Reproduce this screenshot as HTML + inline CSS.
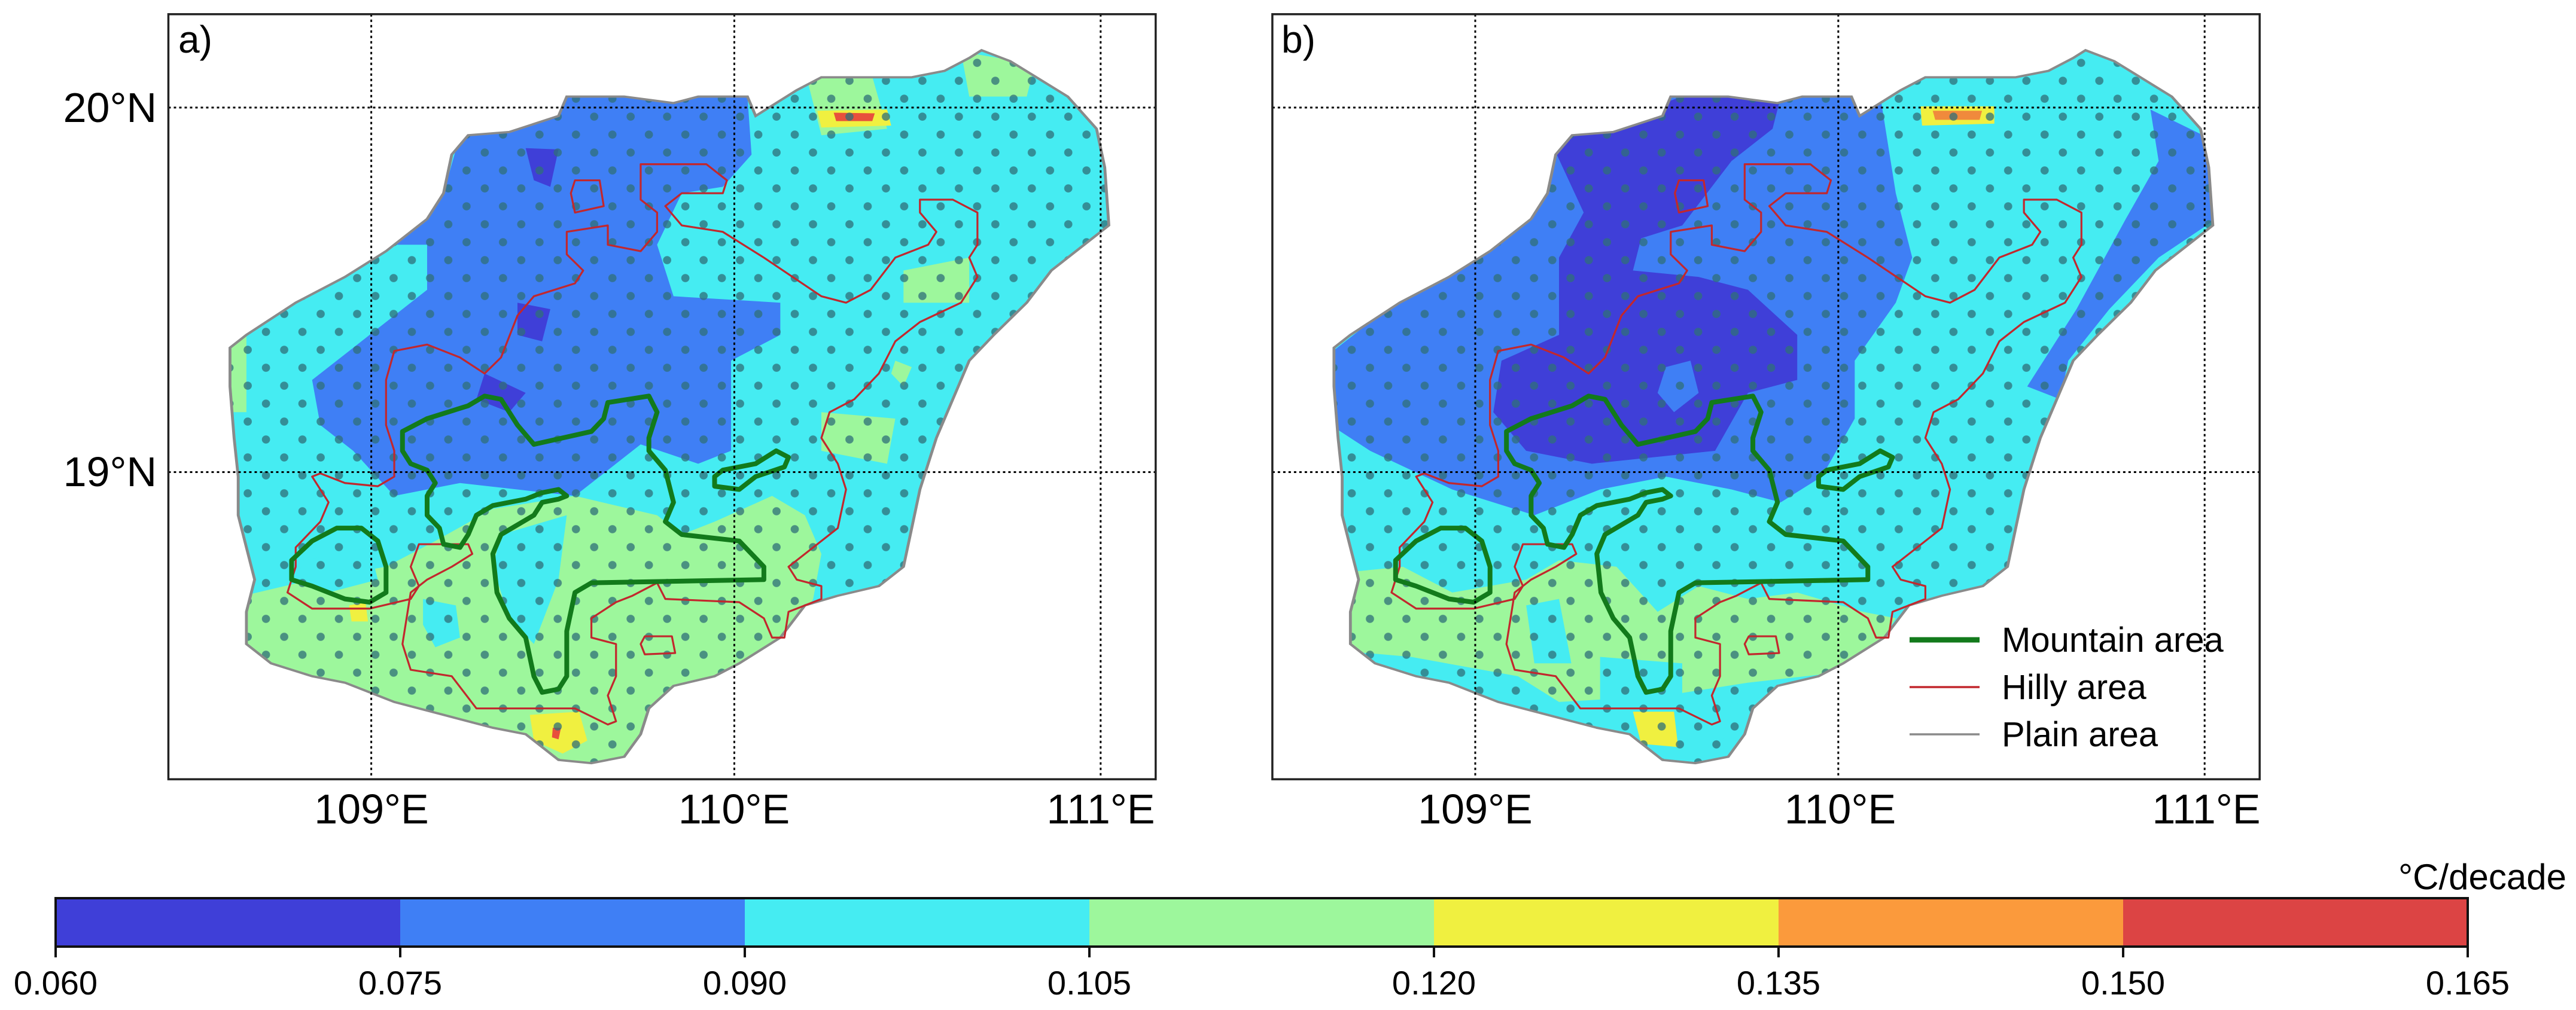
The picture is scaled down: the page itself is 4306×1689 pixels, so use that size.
<!DOCTYPE html>
<html><head><meta charset="utf-8"><style>
html,body{margin:0;padding:0;background:#fff;}
svg{display:block;font-family:"Liberation Sans",sans-serif;}
</style></head><body>
<svg id="fig" width="4306" height="1689" viewBox="0 0 4306 1689" xmlns="http://www.w3.org/2000/svg">
<defs>
  <path id="island" d="M1195,78 L1230,95 L1300,150 L1335,200 L1345,260 L1350,350 L1320,380 L1280,420 L1250,470 L1210,520 L1180,560 L1160,620 L1140,680 L1120,760 L1110,820 L1100,880 L1070,910 L1020,925 L980,940 L950,990 L900,1030 L870,1050 L820,1065 L790,1100 L780,1140 L760,1175 L720,1185 L680,1180 L640,1140 L600,1130 L540,1110 L480,1090 L420,1060 L380,1050 L330,1030 L300,1000 L300,950 L310,900 L300,850 L290,800 L290,740 L285,680 L280,600 L280,540 L300,520 L360,470 L420,430 L470,390 L520,340 L540,300 L550,240 L570,210 L620,205 L680,180 L690,150 L760,150 L820,160 L850,150 L910,150 L920,180 L970,140 L1000,120 L1060,120 L1110,120 L1150,110 L1180,90 Z"/>
  <clipPath id="islandClip"><use href="#island"/></clipPath>
  <clipPath id="boxClip"><rect x="205" y="22" width="1202" height="1188"/></clipPath>
  <pattern id="dots" patternUnits="userSpaceOnUse" x="2" y="7" width="44.4" height="55.7">
    <ellipse cx="11" cy="7" rx="5" ry="6.3" fill="#2f6f78" fill-opacity="0.75"/>
    <ellipse cx="33.2" cy="34.85" rx="5" ry="6.3" fill="#2f6f78" fill-opacity="0.75"/>
  </pattern>
  <g id="hilly">
    <path d="M470,590 L480,545 L520,535 L560,555 L590,580 L610,555 L630,490 L650,460 L700,440 L710,420 L690,395 L690,360 L740,350 L740,380 L780,390 L800,360 L800,330 L780,310 L780,255 L860,255 L885,280 L880,300 L830,300 L810,320 L830,350 L880,360 L930,400 L1000,460 L1030,470 L1060,450 L1090,400 L1130,380 L1140,360 L1120,330 L1120,310 L1160,310 L1190,330 L1190,380 L1180,400 L1190,430 L1170,470 L1120,500 L1090,530 L1070,580 L1040,620 L1010,640 L1000,680 L1020,720 L1030,760 L1020,820 L980,860 L960,880 L970,900 L1000,910 L1000,930 L960,950 L955,990 L940,990 L930,960 L900,935 L810,930 L800,905 L770,925 L750,935 L720,960 L720,990 L750,1000 L750,1050 L740,1080 L750,1120 L740,1125 L700,1100 L580,1100 L550,1050 L500,1040 L490,1000 L500,920 L520,900 L550,880 L575,860 L570,845 L510,845 L500,880 L510,910 L500,930 L450,945 L380,945 L350,920 L360,880 L360,850 L390,810 L400,780 L380,740 L390,735 L420,750 L460,755 L480,740 L480,700 L470,660 Z" fill="none" stroke="#c2272d" stroke-width="3.2" vector-effect="non-scaling-stroke" stroke-linejoin="round"/>
    <path d="M700,280 L730,280 L735,320 L700,330 L695,300 Z" fill="none" stroke="#c2272d" stroke-width="3.2" vector-effect="non-scaling-stroke" stroke-linejoin="round"/>
    <path d="M785,988 L818,988 L822,1014 L785,1016 L780,1000 Z" fill="none" stroke="#c2272d" stroke-width="3.2" vector-effect="non-scaling-stroke" stroke-linejoin="round"/>
  </g>
  <g id="mountain">
    <path d="M490,670 L520,650 L570,630 L590,615 L610,620 L630,660 L650,690 L720,670 L735,650 L740,625 L790,615 L800,640 L790,680 L790,700 L810,730 L820,780 L810,810 L830,830 L900,840 L930,880 L930,900 L720,905 L700,920 L690,980 L690,1050 L680,1070 L660,1075 L650,1050 L640,990 L620,960 L605,920 L600,860 L610,830 L650,800 L660,780 L680,775 L690,770 L680,760 L660,765 L640,775 L600,785 L580,800 L570,830 L560,850 L540,845 L535,820 L520,800 L520,770 L530,750 L520,730 L500,720 L490,700 Z" fill="none" stroke="#127a1b" stroke-width="8" vector-effect="non-scaling-stroke" stroke-linejoin="round"/>
    <path d="M870,740 L880,730 L920,720 L945,700 L960,710 L955,725 L920,740 L900,760 L870,755 Z" fill="none" stroke="#127a1b" stroke-width="8" vector-effect="non-scaling-stroke" stroke-linejoin="round"/>
    <path d="M355,870 L380,840 L410,820 L440,820 L460,840 L470,880 L470,920 L450,935 L420,930 L380,910 L355,900 Z M355,870 L355,900" fill="none" stroke="#127a1b" stroke-width="8" vector-effect="non-scaling-stroke" stroke-linejoin="round"/>
  </g>
</defs>

<!-- PANEL A -->
<g transform="matrix(1.373,0,0,1.077,0,0)">
  <g clip-path="url(#boxClip)">
  <g clip-path="url(#islandClip)">
    <rect x="205" y="22" width="1202" height="1188" fill="#45ecf2"/>
    <path fill="#3f7ff5" d="M560,210 L680,180 L690,150 L910,150 L915,240 L880,290 L830,300 L800,380 L820,460 L950,470 L950,520 L890,560 L890,700 L850,720 L780,690 L700,770 L560,750 L480,770 L430,700 L390,660 L380,590 L430,540 L520,450 L520,380 L460,380 L540,300 Z"/>
    <path fill="#3f3fd8" d="M640,230 L680,232 L670,290 L650,280 Z M630,470 L670,480 L660,530 L630,520 Z M590,580 L640,610 L620,640 L580,620 Z"/>
    <path fill="#9df79c" d="M280,930 L380,900 L470,880 L530,840 L600,790 L700,770 L800,800 L830,830 L870,810 L940,770 L980,800 L1000,860 L990,930 L960,1000 L900,1040 L820,1070 L790,1190 L300,1190 L280,1040 Z M1000,640 L1090,650 L1080,720 L1000,700 Z M1100,420 L1180,400 L1180,470 L1100,470 Z M270,520 L300,520 L300,640 L270,640 Z M980,110 L1060,110 L1080,200 L1000,210 Z M1170,80 L1260,100 L1250,150 L1180,150 Z M1090,560 L1110,570 L1100,600 L1085,580 Z"/>
    <path fill="#45ecf2" d="M515,930 L555,940 L560,990 L530,1005 L515,970 Z M610,830 L690,800 L680,900 L650,1000 L620,960 L600,880 Z M370,870 L450,850 L460,900 L400,920 L360,900 Z"/>
    <path fill="#f0f040" d="M645,1110 L705,1105 L715,1150 L685,1170 L650,1150 Z M425,940 L445,935 L448,965 L428,965 Z M995,172 L1080,170 L1085,195 L1000,198 Z"/>
    <path fill="#e8503c" d="M1015,175 L1065,176 L1062,188 L1018,188 Z M673,1130 L683,1130 L680,1148 L672,1145 Z"/>
    <rect x="205" y="22" width="1202" height="1188" fill="url(#dots)"/>
  </g>
  <use href="#island" fill="none" stroke="#8a8a8a" stroke-width="3.5" vector-effect="non-scaling-stroke"/>
  <use href="#hilly"/>
  <use href="#mountain"/>
  <g stroke="#000" stroke-width="3" stroke-dasharray="4,5" vector-effect="non-scaling-stroke">
    <line x1="452" y1="22" x2="452" y2="1210" vector-effect="non-scaling-stroke"/>
    <line x1="894" y1="22" x2="894" y2="1210" vector-effect="non-scaling-stroke"/>
    <line x1="1340" y1="22" x2="1340" y2="1210" vector-effect="non-scaling-stroke"/>
    <line x1="205" y1="167" x2="1407" y2="167" vector-effect="non-scaling-stroke"/>
    <line x1="205" y1="733" x2="1407" y2="733" vector-effect="non-scaling-stroke"/>
  </g>
  </g>
  <rect x="205" y="22" width="1202" height="1188" fill="none" stroke="#222" stroke-width="3.5" vector-effect="non-scaling-stroke"/>
</g>

<!-- PANEL B -->
<g transform="matrix(1.373,0,0,1.077,1845.4,0)">
  <g clip-path="url(#boxClip)">
  <g clip-path="url(#islandClip)">
    <rect x="205" y="22" width="1202" height="1188" fill="#45ecf2"/>
    <g transform="translate(224,0)">
    <path fill="#3f7ff5" d="M40,560 L100,500 L320,200 L470,140 L600,140 L720,140 L740,300 L760,400 L740,470 L690,560 L690,650 L650,740 L600,780 L540,760 L460,740 L380,760 L300,800 L200,760 L100,700 L40,650 Z M1050,170 L1130,220 L1130,340 L1060,400 L1000,480 L950,560 L940,620 L900,600 L960,480 L1020,340 L1060,250 Z"/>
    <path fill="#3f3fd8" d="M320,220 L480,150 L600,150 L590,200 L540,250 L480,350 L430,370 L420,420 L500,430 L560,450 L620,520 L620,590 L560,610 L520,700 L370,720 L290,700 L250,640 L260,560 L330,520 L330,400 L360,330 Z"/>
    <path fill="#3f7ff5" d="M460,570 L490,560 L500,610 L470,640 L450,610 Z"/>
    <path fill="#9df79c" d="M60,890 L140,880 L200,920 L290,900 L330,870 L400,880 L450,950 L500,910 L560,930 L620,920 L700,950 L740,960 L720,1000 L700,1040 L560,1060 L460,1080 L330,1090 L280,1050 L150,1020 L60,1010 Z"/>
    <path fill="#45ecf2" d="M290,940 L330,930 L345,1030 L300,1030 Z M380,1020 L480,1030 L480,1090 L380,1090 Z M540,1090 L600,1110 L560,1200 L520,1200 Z"/>
    <path fill="#f0f040" d="M420,1105 L470,1105 L475,1160 L430,1155 Z M770,165 L860,165 L860,192 L772,195 Z"/>
    <path fill="#f08a3c" d="M785,172 L845,172 L842,186 L788,186 Z"/>
    </g>
    <rect x="205" y="22" width="1202" height="1188" fill="url(#dots)"/>
  </g>
  <use href="#island" fill="none" stroke="#8a8a8a" stroke-width="3.5" vector-effect="non-scaling-stroke"/>
  <use href="#hilly"/>
  <use href="#mountain"/>
  <g stroke="#000" stroke-width="3" stroke-dasharray="4,5">
    <line x1="452" y1="22" x2="452" y2="1210" vector-effect="non-scaling-stroke"/>
    <line x1="894" y1="22" x2="894" y2="1210" vector-effect="non-scaling-stroke"/>
    <line x1="1340" y1="22" x2="1340" y2="1210" vector-effect="non-scaling-stroke"/>
    <line x1="205" y1="167" x2="1407" y2="167" vector-effect="non-scaling-stroke"/>
    <line x1="205" y1="733" x2="1407" y2="733" vector-effect="non-scaling-stroke"/>
  </g>
  </g>
  <rect x="205" y="22" width="1202" height="1188" fill="none" stroke="#222" stroke-width="3.5" vector-effect="non-scaling-stroke"/>
</g>

<!-- Labels -->
<text x="298" y="88" font-size="64">a)</text>
<text x="2142" y="88" font-size="64">b)</text>
<g font-size="70" text-anchor="end">
  <text x="262" y="204">20°N</text>
  <text x="262" y="813">19°N</text>
</g>
<g font-size="70" text-anchor="middle">
  <text x="621" y="1377">109°E</text>
  <text x="1227" y="1377">110°E</text>
  <text x="1840" y="1377">111°E</text>
</g>
<g font-size="70" text-anchor="middle">
  <text x="2466" y="1377">109°E</text>
  <text x="3076" y="1377">110°E</text>
  <text x="3688" y="1377">111°E</text>
</g>

<!-- Legend -->
<g font-size="58">
  <g>
    <line x1="3192" y1="1070" x2="3309" y2="1070" stroke="#127a1b" stroke-width="9"/>
    <text x="3346" y="1090">Mountain area</text>
  </g>
  <g>
    <line x1="3192" y1="1149" x2="3309" y2="1149" stroke="#c2272d" stroke-width="3.5"/>
    <text x="3346" y="1169">Hilly area</text>
  </g>
  <g>
    <line x1="3192" y1="1228" x2="3309" y2="1228" stroke="#8a8a8a" stroke-width="3.5"/>
    <text x="3346" y="1248">Plain area</text>
  </g>
</g>

<!-- Colorbar -->
<g id="colorbar"></g>
<text x="4290" y="1487" font-size="60" text-anchor="end">°C/decade</text>
</svg>
<script>
const cbBounds = [0.060, 0.075, 0.090, 0.105, 0.120, 0.135, 0.150, 0.165];
const cbColors = ["#3f3fd8", "#3f7ff5", "#45ecf2", "#9df79c", "#f0f040", "#fb9a3c", "#dc4444"];
const cbTickLabels = ["0.060", "0.075", "0.090", "0.105", "0.120", "0.135", "0.150", "0.165"];
(function(){
  const NS = "http://www.w3.org/2000/svg";
  const g = document.getElementById("colorbar");
  const x0 = 93, x1 = 4125, top = 1502, bot = 1583;
  const vmin = cbBounds[0], vmax = cbBounds[cbBounds.length-1];
  const sx = v => x0 + (v - vmin) / (vmax - vmin) * (x1 - x0);
  for (let i = 0; i < cbColors.length; i++) {
    const r = document.createElementNS(NS, "rect");
    r.setAttribute("x", sx(cbBounds[i]));
    r.setAttribute("y", top);
    r.setAttribute("width", sx(cbBounds[i+1]) - sx(cbBounds[i]));
    r.setAttribute("height", bot - top);
    r.setAttribute("fill", cbColors[i]);
    
    
    g.appendChild(r);
  }
  const frame = document.createElementNS(NS, "rect");
  frame.setAttribute("x", x0); frame.setAttribute("y", top);
  frame.setAttribute("width", x1 - x0); frame.setAttribute("height", bot - top);
  frame.setAttribute("fill", "none"); frame.setAttribute("stroke", "#111"); frame.setAttribute("stroke-width", "4");
  
  
  g.appendChild(frame);
  for (let i = 0; i < cbBounds.length; i++) {
    const x = sx(cbBounds[i]);
    const t = document.createElementNS(NS, "line");
    t.setAttribute("x1", x); t.setAttribute("x2", x);
    t.setAttribute("y1", bot); t.setAttribute("y2", bot + 18);
    t.setAttribute("stroke", "#111"); t.setAttribute("stroke-width", "4");
    
    
    g.appendChild(t);
    const tx = document.createElementNS(NS, "text");
    tx.setAttribute("x", x); tx.setAttribute("y", 1663);
    tx.setAttribute("font-size", "56"); tx.setAttribute("text-anchor", "middle");
    tx.textContent = cbTickLabels[i];
    
    
    g.appendChild(tx);
  }
})();
</script>
</body></html>
